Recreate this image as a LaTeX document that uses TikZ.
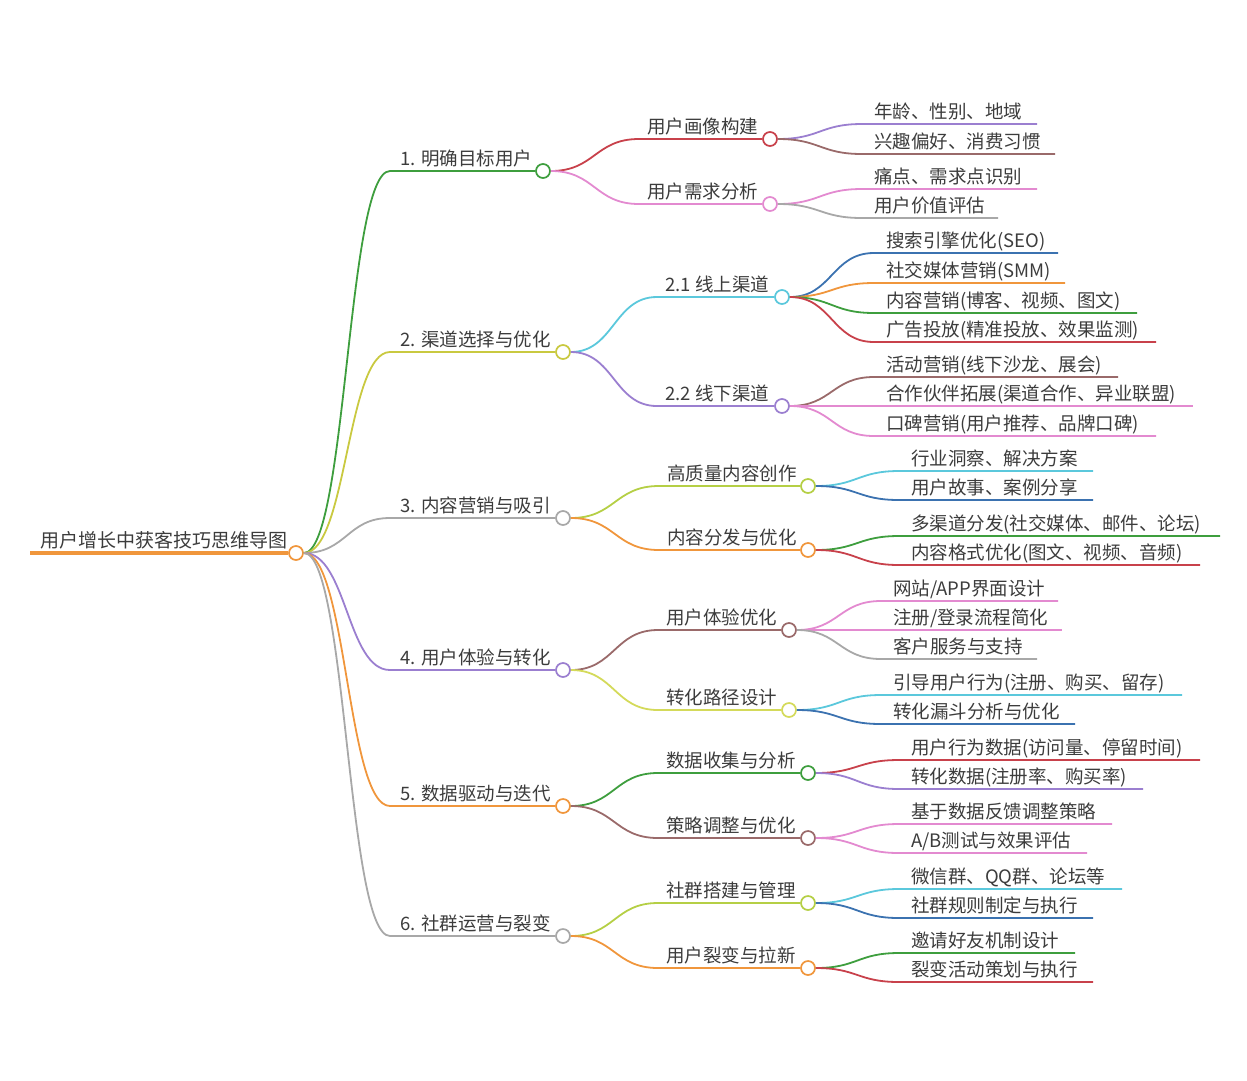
\documentclass[tikz,border=0pt]{standalone}
\usepackage{fontspec}
\setmainfont{Noto Sans CJK SC}
\usetikzlibrary{calc}

\definecolor{corange}{HTML}{F0963C}
\definecolor{cgreen}{HTML}{3E9E3E}
\definecolor{colive}{HTML}{C9C940}
\definecolor{cgray}{HTML}{A8A8A8}
\definecolor{cpurple}{HTML}{9B7FD0}
\definecolor{cred}{HTML}{C8414B}
\definecolor{cpink}{HTML}{E38AD0}
\definecolor{ccyan}{HTML}{5BC8DC}
\definecolor{cblue}{HTML}{3B72B0}
\definecolor{cbrown}{HTML}{9A6A6A}
\definecolor{cyg}{HTML}{B5CF45}
\definecolor{cyellow}{HTML}{D4DA5A}
\definecolor{txtgray}{HTML}{3C3C3C}

\begin{document}
\begin{tikzpicture}[x=1pt,y=-1pt,
    lbl/.style={anchor=base west,inner sep=0pt,text=txtgray,
      font=\fontsize{18.5}{18.5}\selectfont},
    dot/.style={circle,draw=#1,fill=white,line width=1.7pt,
      minimum size=14pt,inner sep=0pt},
    edge/.style={draw=#1,line width=1.8pt},
    bcurve/.style={to path={let \p1=(\tikztostart),\p2=(\tikztotarget) in
      .. controls ({(\x1+\x2)/2},\y1) and ({(\x1+\x2)/2},\y2) .. (\tikztotarget)}}]
  \useasboundingbox (0,0) rectangle (1247,1080);

  % root
  \coordinate (r0) at (30,553);
  \node[dot=corange] (root) at (296,553) {};
  \node[lbl,font=\fontsize{19}{19}\selectfont] (rt) at (40,547) {用户增长中获客技巧思维导图};
  \draw[edge=corange,line width=3.5pt] (r0) -- (root);

  % main branches
  \foreach \k/\yy/\cx/\col/\txt in {
      1/171/543/cgreen/{1. 明确目标用户},
      2/352/563/colive/{2. 渠道选择与优化},
      3/518/563/cgray/{3. 内容营销与吸引},
      4/670/563/cpurple/{4. 用户体验与转化},
      5/806/563/corange/{5. 数据驱动与迭代},
      6/936/563/cgray/{6. 社群运营与裂变}}{
    \coordinate (s\k) at (390,\yy);
    \node[dot=\col] (c\k) at (\cx,\yy) {};
    \node[lbl] (t\k) at (400,\yy-6) {\txt};
    \draw[edge=\col] (root.east) to[bcurve] (s\k) -- (c\k);
  }

  % sub branches
  \foreach \pa/\k/\yy/\tx/\cx/\col/\txt in {
      1/1/139/647/770/cred/{用户画像构建},
      1/2/204/647/770/cpink/{用户需求分析},
      2/1/297/665/782/ccyan/{2.1 线上渠道},
      2/2/406/665/782/cpurple/{2.2 线下渠道},
      3/1/486/667/808/cyg/{高质量内容创作},
      3/2/550/667/808/corange/{内容分发与优化},
      4/1/630/666/789/cbrown/{用户体验优化},
      4/2/710/666/789/cyellow/{转化路径设计},
      5/1/773/666/808/cgreen/{数据收集与分析},
      5/2/838/666/808/cbrown/{策略调整与优化},
      6/1/903/666/808/cyg/{社群搭建与管理},
      6/2/968/666/808/corange/{用户裂变与拉新}}{
    \coordinate (s\pa\k) at (\tx-8,\yy);
    \node[dot=\col] (c\pa\k) at (\cx,\yy) {};
    \node[lbl] (t\pa\k) at (\tx,\yy-6) {\txt};
    \draw[edge=\col] (c\pa.east) to[bcurve] (s\pa\k) -- (c\pa\k);
  }

  % leaves
  \foreach \pa/\k/\yy/\tx/\xe/\col/\txt in {
      11/1/124/874/1037/cpurple/{年龄、性别、地域},
      11/2/154/874/1055/cbrown/{兴趣偏好、消费习惯},
      12/1/189/874/1037/cpink/{痛点、需求点识别},
      12/2/218/874/998/cgray/{用户价值评估},
      21/1/253/886/1058/cblue/{搜索引擎优化(SEO)},
      21/2/283/886/1065/corange/{社交媒体营销(SMM)},
      21/3/313/886/1137/cgreen/{内容营销(博客、视频、图文)},
      21/4/342/886/1156/cred/{广告投放(精准投放、效果监测)},
      22/1/377/886/1118/cbrown/{活动营销(线下沙龙、展会)},
      22/2/406/886/1193/cpink/{合作伙伴拓展(渠道合作、异业联盟)},
      22/3/436/886/1156/cpink/{口碑营销(用户推荐、品牌口碑)},
      31/1/471/911/1093/ccyan/{行业洞察、解决方案},
      31/2/500/911/1093/cblue/{用户故事、案例分享},
      32/1/536/911/1220/cgreen/{多渠道分发(社交媒体、邮件、论坛)},
      32/2/565/911/1200/cred/{内容格式优化(图文、视频、音频)},
      41/1/601/893/1058/cpink/{网站/APP界面设计},
      41/2/630/893/1062/cpink/{注册/登录流程简化},
      41/3/659/893/1037/cgray/{客户服务与支持},
      42/1/695/893/1182/ccyan/{引导用户行为(注册、购买、留存)},
      42/2/724/893/1075/cblue/{转化漏斗分析与优化},
      51/1/760/911/1200/cred/{用户行为数据(访问量、停留时间)},
      51/2/789/911/1143/cpurple/{转化数据(注册率、购买率)},
      52/1/824/911/1112/cpink/{基于数据反馈调整策略},
      52/2/853/911/1087/cpink/{A/B测试与效果评估},
      61/1/889/911/1122/ccyan/{微信群、QQ群、论坛等},
      61/2/918/911/1093/cblue/{社群规则制定与执行},
      62/1/953/911/1075/cgreen/{邀请好友机制设计},
      62/2/982/911/1093/cred/{裂变活动策划与执行}}{
    \coordinate (s\pa\k) at (\tx-12,\yy);
    \coordinate (e\pa\k) at (\xe,\yy);
    \node[lbl] (t\pa\k) at (\tx,\yy-6) {\txt};
    \draw[edge=\col] (c\pa.east) to[bcurve] (s\pa\k) -- (e\pa\k);
  }
\end{tikzpicture}
\end{document}
